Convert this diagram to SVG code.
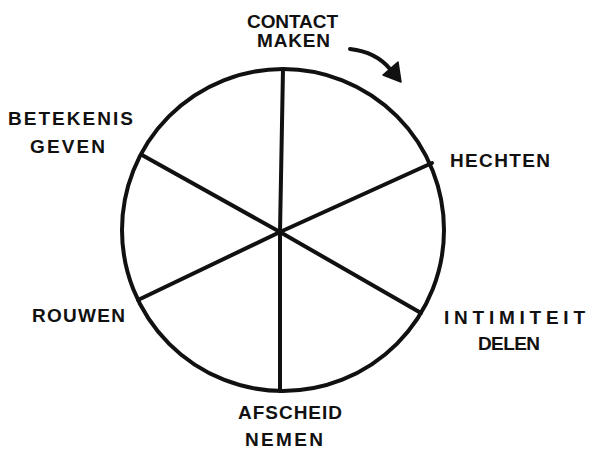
<svg xmlns="http://www.w3.org/2000/svg" width="591" height="449" viewBox="0 0 591 449">
<style>
.lbl{font-family:"Liberation Sans",Arial,sans-serif;font-size:19px;font-weight:bold;fill:#111;text-anchor:start}
.ln{stroke:#111;stroke-width:4;fill:none;stroke-linecap:round}
</style>
<rect width="591" height="449" fill="#fff"/>
<g id="wheel">
<circle cx="283" cy="230" r="161" class="ln" stroke-width="3.5"/>
</g>
<g id="connectors">
<line x1="280" y1="232" x2="283" y2="69" class="ln"/>
<line x1="280" y1="232" x2="432" y2="163" class="ln"/>
<line x1="280" y1="232" x2="421" y2="313" class="ln"/>
<line x1="280" y1="232" x2="280" y2="391" class="ln"/>
<line x1="280" y1="232" x2="138" y2="300" class="ln"/>
<line x1="280" y1="232" x2="142" y2="155" class="ln"/>
<path d="M350,49 Q376,52 390,69" class="ln"/>
<polygon points="383,75 398,62 401,82" fill="#111" stroke="#111" stroke-width="1.5" stroke-linejoin="round"/>
</g>
<g id="contact-maken">
<text class="lbl" x="247" y="28" textLength="91">CONTACT</text>
<text class="lbl" x="257" y="47" textLength="73">MAKEN</text>
</g>
<g id="hechten">
<text class="lbl" x="450" y="167" textLength="100">HECHTEN</text>
</g>
<g id="intimiteit-delen">
<text class="lbl" x="444" y="324" textLength="141">INTIMITEIT</text>
<text class="lbl" x="478" y="350" textLength="62">DELEN</text>
</g>
<g id="afscheid-nemen">
<text class="lbl" x="238" y="419" textLength="104">AFSCHEID</text>
<text class="lbl" x="245" y="446" textLength="78">NEMEN</text>
</g>
<g id="rouwen">
<text class="lbl" x="32" y="322" textLength="93">ROUWEN</text>
</g>
<g id="betekenis-geven">
<text class="lbl" x="8" y="125" textLength="125">BETEKENIS</text>
<text class="lbl" x="30" y="153" textLength="75">GEVEN</text>
</g>
</svg>
